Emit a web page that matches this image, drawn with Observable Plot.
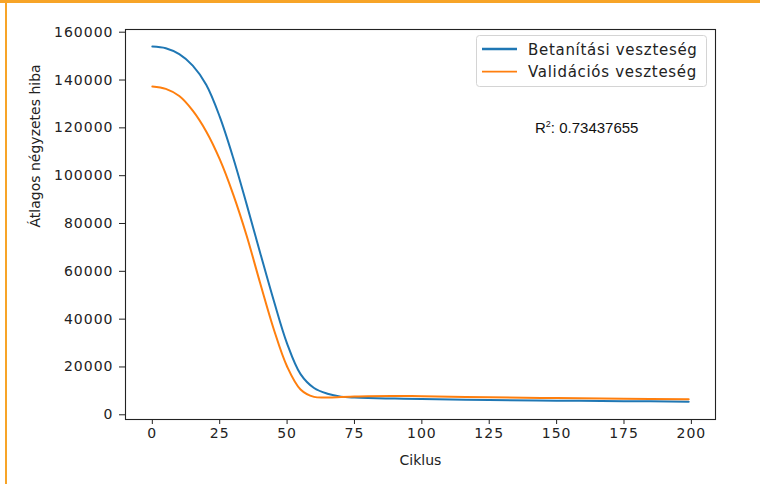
<!DOCTYPE html>
<html>
<head>
<meta charset="utf-8">
<script src="https://cdn.jsdelivr.net/npm/d3@7"></script>
<script src="https://cdn.jsdelivr.net/npm/@observablehq/plot@0.6"></script>
<style>
  html, body { margin: 0; padding: 0; background: #fff; }
  #wrap { position: relative; width: 760px; height: 484px; overflow: hidden; background: #fff; }
  #topbar { position: absolute; left: 0; top: 0; width: 760px; height: 3px; background: #f7a428; }
  #leftbar { position: absolute; left: 5px; top: 0; width: 2px; height: 484px; background: #f7a428; }
  #chart { position: absolute; left: 0; top: 0; }
  #overlay { position: absolute; left: 0; top: 0; pointer-events: none; }
</style>
</head>
<body>
<div id="wrap">
  <div id="chart"></div>
  <svg id="overlay" width="760" height="484"></svg>
  <div id="topbar"></div>
  <div id="leftbar"></div>
</div>
<script>
const epochs = [0, 5, 10, 15, 20, 25, 30, 35, 40, 45, 50, 55, 60, 65, 70, 75, 80, 90, 100, 125, 150, 175, 199];
// Training loss (Betanítási veszteség)
const trainLoss = [154000, 153300, 150800, 146000, 138000, 124700, 107500, 88000, 67800, 48000, 29800, 17000, 11200, 8800, 7600, 7200, 7000, 6800, 6600, 6200, 5900, 5700, 5500];
// Validation loss (Validációs veszteség)
const valLoss = [137300, 136300, 133300, 127200, 118500, 106900, 92200, 74900, 55100, 36000, 20200, 10600, 7500, 7250, 7400, 7600, 7800, 7900, 7750, 7350, 7000, 6750, 6500];

const seriesNames = ["Betanítási veszteség", "Validációs veszteség"];
const seriesColors = ["#1f77b4", "#ff7f0e"];
const xTicks = [0, 25, 50, 75, 100, 125, 150, 175, 200];
const yTicks = [0, 20000, 40000, 60000, 80000, 100000, 120000, 140000, 160000];
const xLabel = "Ciklus";
const yLabel = "Átlagos négyzetes hiba";
const r2Value = "0.73437655";

const rows = [];
epochs.forEach((e, i) => {
  rows.push({epoch: e, loss: trainLoss[i], series: seriesNames[0]});
});
epochs.forEach((e, i) => {
  rows.push({epoch: e, loss: valLoss[i], series: seriesNames[1]});
});

const textColor = "#222";
const chart = Plot.plot({
  width: 760,
  height: 484,
  marginLeft: 125,
  marginRight: 45,
  marginTop: 29,
  marginBottom: 65,
  style: {fontFamily: "DejaVu Sans", fontSize: "14px", color: textColor, background: "transparent"},
  x: {domain: [-9.95, 208.95], ticks: xTicks, tickFormat: d3.format("d"), label: null, tickSize: 5, tickPadding: 4},
  y: {domain: [-1970, 161130], ticks: yTicks, tickFormat: d3.format("d"), label: null, tickSize: 6, tickPadding: 6},
  color: {domain: seriesNames, range: seriesColors},
  marks: [
    Plot.line(rows, {x: "epoch", y: "loss", z: "series", stroke: "series", strokeWidth: 2, curve: "catmull-rom"}),
    Plot.frame({stroke: "#222", strokeWidth: 1.1}),
    Plot.text([xLabel], {frameAnchor: "bottom", dy: 41, lineAnchor: "middle", fill: textColor, fontSize: 14}),
    Plot.text([yLabel], {frameAnchor: "left", dx: -90, dy: 3, rotate: -90, lineAnchor: "middle", fill: textColor, fontSize: 14})
  ]
});
// widen tick labels slightly to match the stretched original
chart.querySelectorAll("g[aria-label='x-axis tick label'] text, g[aria-label='y-axis tick label'] text").forEach(t => {
  t.setAttribute("letter-spacing", "1");
});
document.getElementById("chart").appendChild(chart);

// Legend and R² annotation
const ov = d3.select("#overlay");
const lg = ov.append("g");
lg.append("rect").attr("x", 476.5).attr("y", 35.5).attr("width", 230).attr("height", 51)
  .attr("rx", 3).attr("fill", "#fff").attr("fill-opacity", 0.8).attr("stroke", "#d4d4d4");
seriesNames.forEach((name, i) => {
  const cy = 49 + i * 22.7;
  lg.append("line").attr("x1", 482).attr("x2", 517).attr("y1", cy).attr("y2", cy)
    .attr("stroke", seriesColors[i]).attr("stroke-width", i === 0 ? 2.6 : 1.7);
  lg.append("text").attr("x", 528).attr("y", cy + 5.5)
    .attr("font-family", "DejaVu Sans").attr("font-size", 15).attr("letter-spacing", 0.7)
    .attr("fill", textColor).text(name);
});
const r2 = ov.append("text").attr("x", 535).attr("y", 133)
  .attr("font-family", "Liberation Sans").attr("font-size", 15).attr("fill", "#111");
r2.append("tspan").text("R");
r2.append("tspan").attr("font-size", 9).attr("dy", -6).text("2");
r2.append("tspan").attr("dy", 6).text(": " + r2Value);
</script>
</body>
</html>
